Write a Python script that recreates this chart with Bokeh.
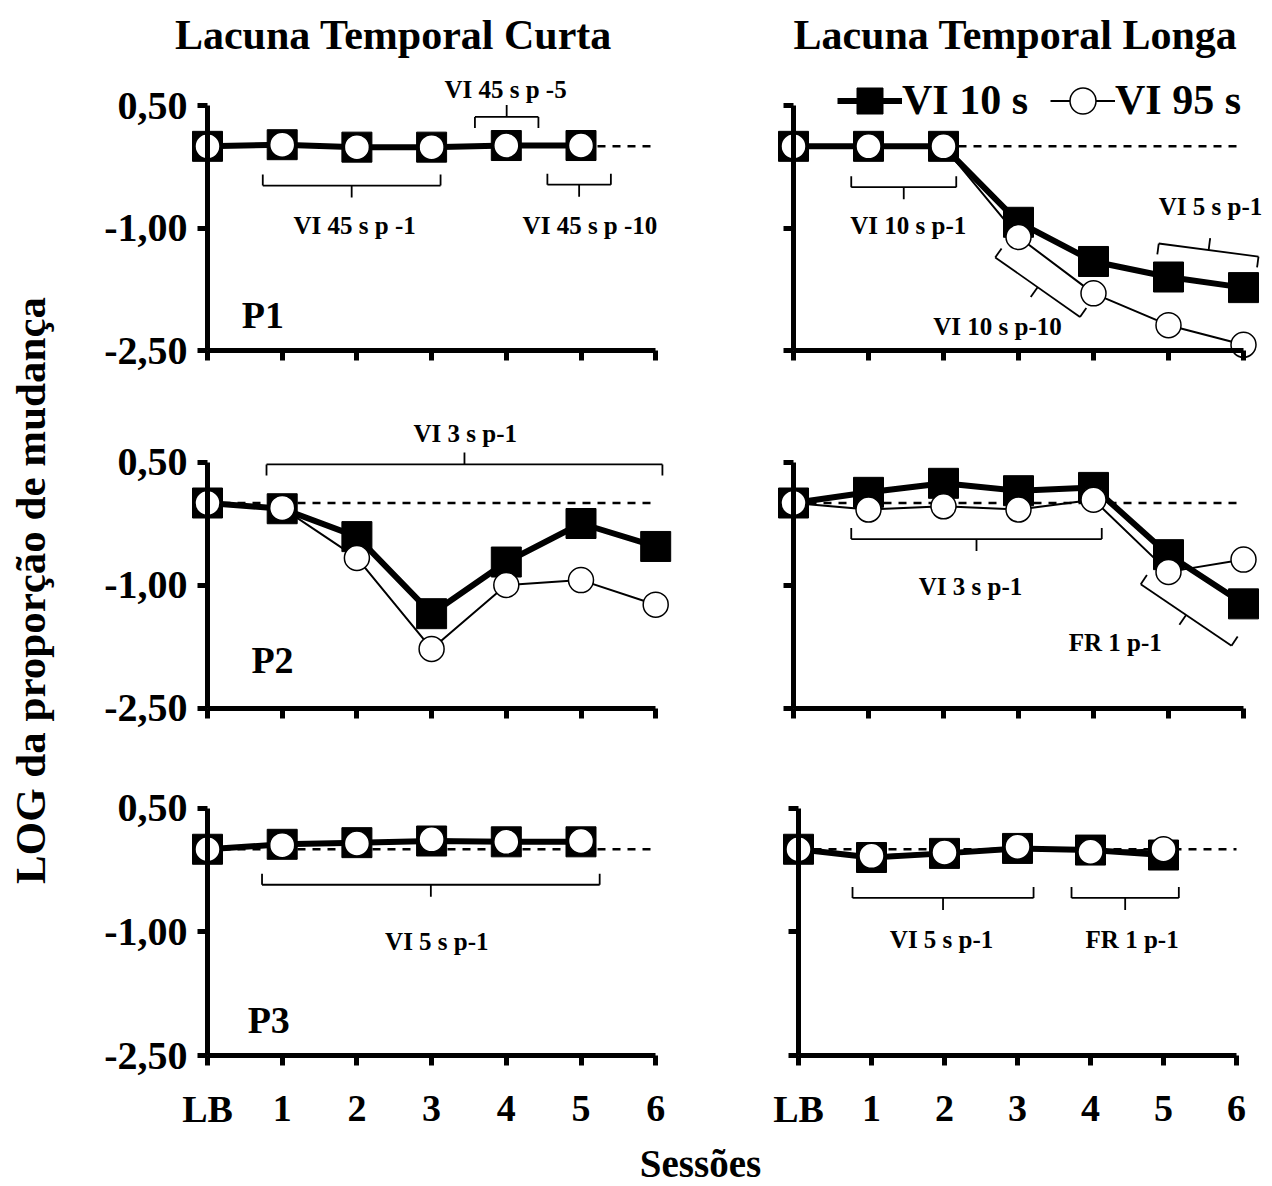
import math
from bokeh.plotting import figure
from bokeh.models import Range1d, FixedTicker, Legend, LegendItem
from bokeh.layouts import column, row
from bokeh.embed import file_html
from bokeh.resources import INLINE
from bokeh.core.properties import value

FONT = "Liberation Serif"

# ---------------- data ----------------
sessions = [0, 1, 2, 3, 4, 5, 6]
session_labels = ["LB", "1", "2", "3", "4", "5", "6"]
y_ticks = [0.5, -1.0, -2.5]
y_tick_labels = ["0,50", "-1,00", "-2,50"]
baseline = 0.0
column_titles = ["Lacuna Temporal Curta", "Lacuna Temporal Longa"]
series_names = ["VI 10 s", "VI 95 s"]
participants = ["P1", "P2", "P3"]
x_title = "Sessões"
y_title = "LOG da proporção de mudança"

p1_curta_vi10 = [0.00, 0.02, -0.01, -0.01, 0.01, 0.01]
p1_curta_vi95 = [0.00, 0.02, -0.01, -0.01, 0.01, 0.01]
p1_longa_vi10 = [0.00, 0.00, 0.00, -0.93, -1.41, -1.60, -1.73]
p1_longa_vi95 = [0.00, 0.00, 0.00, -1.11, -1.80, -2.19, -2.43]
p2_curta_vi10 = [0.00, -0.07, -0.41, -1.35, -0.72, -0.25, -0.53]
p2_curta_vi95 = [0.00, -0.06, -0.67, -1.78, -1.00, -0.94, -1.24]
p2_longa_vi10 = [0.00, 0.13, 0.24, 0.15, 0.19, -0.63, -1.23]
p2_longa_vi95 = [0.00, -0.08, -0.04, -0.08, 0.04, -0.84, -0.69]
p3_curta_vi10 = [0.00, 0.06, 0.08, 0.10, 0.09, 0.09]
p3_curta_vi95 = [0.00, 0.05, 0.07, 0.12, 0.09, 0.10]
p3_longa_vi10 = [0.00, -0.10, -0.05, 0.01, -0.01, -0.07]
p3_longa_vi95 = [0.00, -0.08, -0.04, 0.03, -0.03, 0.00]

# bracket annotations: (x start, y start, x end, y end, hook side, label, label x, label y)
p1_curta_brackets = [
    (0.74, -0.48, 3.12, -0.48, 1, "VI 45 s p -1", 1.97, -0.97),
    (3.58, 0.36, 4.43, 0.36, -1, "VI 45 s p -5", 3.99, 0.69),
    (4.55, -0.47, 5.40, -0.47, 1, "VI 45 s p -10", 5.12, -0.97),
]
p1_longa_brackets = [
    (0.77, -0.50, 2.17, -0.50, 1, "VI 10 s p-1", 1.53, -0.97),
    (2.69, -1.36, 3.82, -2.09, 1, "VI 10 s p-10", 2.72, -2.21),
    (4.87, -1.19, 6.20, -1.35, -1, "VI 5 s p-1", 5.56, -0.74),
]
p2_curta_brackets = [
    (0.79, 0.47, 6.09, 0.47, -1, "VI 3 s p-1", 3.45, 0.85),
]
p2_longa_brackets = [
    (0.77, -0.44, 4.11, -0.44, 1, "VI 3 s p-1", 2.36, -1.02),
    (4.63, -0.99, 5.84, -1.74, 1, "FR 1 p-1", 4.29, -1.70),
]
p3_curta_brackets = [
    (0.73, -0.43, 5.25, -0.43, 1, "VI 5 s p-1", 3.07, -1.12),
]
p3_longa_brackets = [
    (0.74, -0.59, 3.22, -0.59, 1, "VI 5 s p-1", 1.96, -1.09),
    (3.74, -0.59, 5.21, -0.59, 1, "FR 1 p-1", 4.57, -1.09),
]
panel_label_pos = [(0.74, -2.07), (0.87, -1.92), (0.82, -2.07)]

# ---------------- layout geometry (page pixels) ----------------
COLS = {
    "curta": dict(fig_l=60, fig_r=722, frame_l=74, frame_r=702, x0=207, ppx=74.7),
    "longa": dict(fig_l=722, fig_r=1270, frame_l=770, frame_r=1270, x0=793, ppx=75.0),
}
ROWS = [
    dict(fig_t=62, fig_b=416, frame_t=62, frame_b=378, top=105, bot=350),
    dict(fig_t=416, fig_b=766, frame_t=416, frame_b=734, top=461.5, bot=707.5),
    dict(fig_t=766, fig_b=1136, frame_t=766, frame_b=1122, top=807.5, bot=1055),
]


def style_axis(ax):
    ax.axis_line_width = 5
    ax.axis_line_color = "black"
    ax.major_tick_line_width = 5
    ax.major_tick_line_color = "black"
    ax.major_tick_out = 10
    ax.major_tick_in = 0
    ax.minor_tick_line_color = None
    ax.major_label_text_font_size = "1px"
    ax.major_label_standoff = 0


def panel(colkey, r, vi10, vi95, brackets, plabel=None, show_x=False, show_y=False,
          x0=None, ppx=None):
    c = COLS[colkey]
    g = ROWS[r]
    x0 = c["x0"] if x0 is None else x0
    ppx = c["ppx"] if ppx is None else ppx
    ppy = (g["bot"] - g["top"]) / 3.0
    xr = Range1d((c["frame_l"] - x0) / ppx, (c["frame_r"] - x0) / ppx)
    yr = Range1d(-2.5 - (g["frame_b"] - g["bot"]) / ppy, 0.5 + (g["top"] - g["frame_t"]) / ppy)
    p = figure(width=c["fig_r"] - c["fig_l"], height=g["fig_b"] - g["fig_t"],
               x_range=xr, y_range=yr, output_backend="svg", toolbar_location=None,
               min_border_left=c["frame_l"] - c["fig_l"], min_border_right=c["fig_r"] - c["frame_r"],
               min_border_top=g["frame_t"] - g["fig_t"], min_border_bottom=g["fig_b"] - g["frame_b"])
    p.grid.visible = False
    p.outline_line_color = None
    p.background_fill_color = "white"
    p.border_fill_color = "white"

    xa = p.xaxis[0]
    style_axis(xa)
    xa.ticker = FixedTicker(ticks=sessions, minor_ticks=[])
    xa.bounds = (sessions[0], sessions[-1])
    xa.fixed_location = y_ticks[-1]
    xa.major_label_overrides = {s: "" for s in sessions}

    ya = p.yaxis[0]
    style_axis(ya)
    ya.ticker = FixedTicker(ticks=y_ticks, minor_ticks=[])
    ya.bounds = (y_ticks[-1], y_ticks[0])
    ya.fixed_location = sessions[0]
    ya.major_label_overrides = {t: "" for t in y_ticks}

    # tick labels (drawn beside the axes, inside the frame)
    if show_y:
        p.text([sessions[0]] * len(y_ticks), y_ticks, text=y_tick_labels, x_offset=-20,
               text_font=value(FONT), text_font_style="bold", text_font_size=value("40px"),
               text_align="right", text_baseline="middle", text_color="black")
    if show_x:
        p.text(sessions, [y_ticks[-1]] * len(sessions), text=session_labels, y_offset=53,
               text_font=value(FONT), text_font_style="bold", text_font_size=value("38px"),
               text_align="center", text_baseline="middle", text_color="black")

    # baseline
    p.line([sessions[0], sessions[-1]], [baseline, baseline], line_dash="8 7",
           line_width=2.5, line_color="black")

    xs10 = sessions[:len(vi10)]
    xs95 = sessions[:len(vi95)]
    l10 = p.line(xs10, vi10, line_width=6, line_color="black", line_join="round")
    s10 = p.scatter(xs10, vi10, marker="square", size=30, fill_color="black", line_color="black")
    l95 = p.line(xs95, vi95, line_width=2, line_color="black", line_join="round")
    c95 = p.scatter(xs95, vi95, marker="circle", size=25, fill_color="white",
                    line_color="black", line_width=1.5)

    # brackets
    bx, by, lx, ly, lt = [], [], [], [], []
    hook, tick = 11, 12
    for (xa0, ya0, xb, yb, side, lab, tx, ty) in brackets:
        dxp = (xb - xa0) * ppx
        dyp = (yb - ya0) * ppy
        L = math.hypot(dxp, dyp)
        nx, ny = -dyp / L * side, dxp / L * side
        bx.append([xa0, xb]); by.append([ya0, yb])
        for (xe, ye) in [(xa0, ya0), (xb, yb)]:
            bx.append([xe, xe + nx * hook / ppx]); by.append([ye, ye + ny * hook / ppy])
        xm, ym = (xa0 + xb) / 2, (ya0 + yb) / 2
        bx.append([xm, xm - nx * tick / ppx]); by.append([ym, ym - ny * tick / ppy])
        lx.append(tx); ly.append(ty); lt.append(lab)
    if bx:
        p.multi_line(bx, by, line_color="black", line_width=1.8)
        p.text(lx, ly, text=lt, text_font=value(FONT), text_font_style="bold",
               text_font_size=value("25px"), text_align="center", text_baseline="middle",
               text_color="black")
    if plabel is not None:
        px, py = panel_label_pos[r]
        p.text([px], [py], text=[plabel], text_font=value(FONT), text_font_style="bold",
               text_font_size=value("38px"), text_align="center", text_baseline="middle",
               text_color="black")
    return p, (l10, s10, l95, c95)


p11, _ = panel("curta", 0, p1_curta_vi10, p1_curta_vi95, p1_curta_brackets, participants[0], show_y=True)
p12, r12 = panel("longa", 0, p1_longa_vi10, p1_longa_vi95, p1_longa_brackets)
p21, _ = panel("curta", 1, p2_curta_vi10, p2_curta_vi95, p2_curta_brackets, participants[1], show_y=True)
p22, _ = panel("longa", 1, p2_longa_vi10, p2_longa_vi95, p2_longa_brackets)
p31, _ = panel("curta", 2, p3_curta_vi10, p3_curta_vi95, p3_curta_brackets, participants[2],
               show_x=True, show_y=True)
p32, _ = panel("longa", 2, p3_longa_vi10, p3_longa_vi95, p3_longa_brackets, show_x=True,
               x0=798, ppx=73.0)

# legend in the top-right panel
l10, s10, l95, c95 = r12
legend = Legend(items=[LegendItem(label=series_names[0], renderers=[l10, s10]),
                       LegendItem(label=series_names[1], renderers=[l95, c95])],
                orientation="horizontal", location=(67, 245.5),
                glyph_width=65, glyph_height=65, label_standoff=0, spacing=22,
                padding=0, margin=0, border_line_color=None, background_fill_alpha=0,
                label_text_font=FONT, label_text_font_style="bold",
                label_text_font_size="42px", label_text_color="black")
p12.add_layout(legend, "center")


def text_fig(w, h, x0, x1, y0, y1):
    f = figure(width=w, height=h, x_range=Range1d(x0, x1), y_range=Range1d(y1, y0),
               output_backend="svg", toolbar_location=None, x_axis_type=None, y_axis_type=None,
               min_border_left=0, min_border_right=0, min_border_top=0, min_border_bottom=0)
    f.grid.visible = False
    f.outline_line_color = None
    return f


hdr = text_fig(1270, 62, 0, 1270, 0, 62)
hdr.text([393, 1015], [34, 34], text=column_titles, text_font=value(FONT), text_font_style="bold",
         text_font_size=value("42px"), text_align="center", text_baseline="middle", text_color="black")

ylab = text_fig(60, 1074, 0, 60, 62, 1136)
ylab.text([30], [590], text=[y_title], angle=math.pi / 2, text_font=value(FONT),
          text_font_style="bold", text_font_size=value("43px"), text_align="center",
          text_baseline="middle", text_color="black")

ftr = text_fig(1270, 50, 0, 1270, 1136, 1186)
ftr.text([700], [1163], text=[x_title], text_font=value(FONT), text_font_style="bold",
         text_font_size=value("39px"), text_align="center", text_baseline="middle", text_color="black")

grid = column(row(p11, p12), row(p21, p22), row(p31, p32))
layout = column(hdr, row(ylab, grid), ftr)

open("out.html", "w").write(file_html(layout, INLINE))
